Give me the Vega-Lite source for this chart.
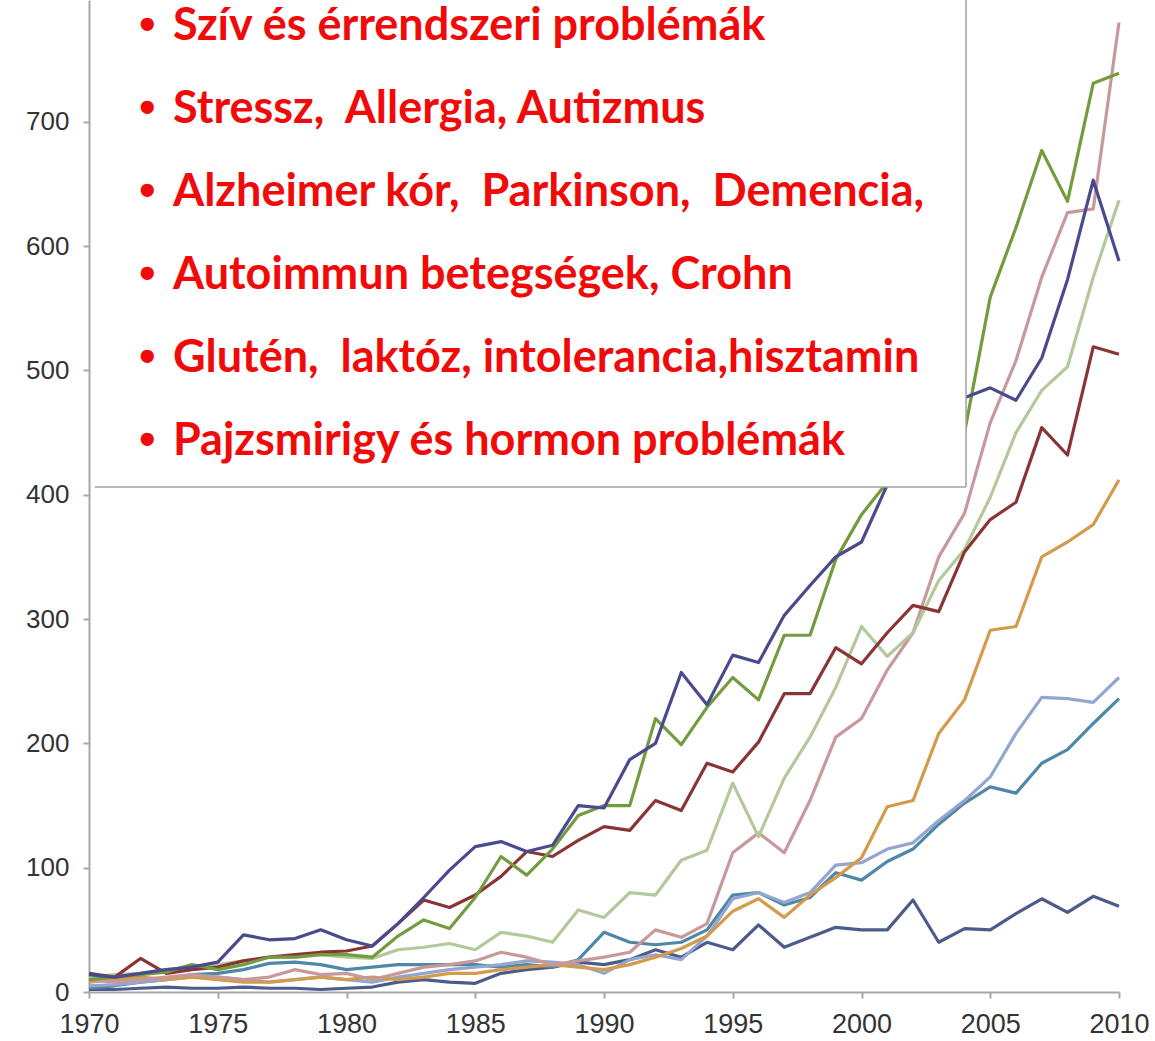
{
  "$schema": "https://vega.github.io/schema/vega-lite/v6.json",
  "width": 1030,
  "height": 992,
  "autosize": {"type": "none"},
  "padding": {"left": 89, "top": 0, "right": 36, "bottom": 49},
  "background": "white",
  "config": {"view": {"stroke": null}},
  "layer": [
    {
      "data": {
        "values": [
          {"year": 1970, "A": 14, "B": 10, "C": 15, "D": 12, "E": 10, "F": 8, "G": 5, "H": 3, "I": 2},
          {"year": 1971, "A": 12, "B": 12, "C": 12, "D": 14, "E": 8, "F": 10, "G": 6, "H": 5, "I": 2},
          {"year": 1972, "A": 15, "B": 14, "C": 27, "D": 15, "E": 10, "F": 12, "G": 8, "H": 8, "I": 3},
          {"year": 1973, "A": 18, "B": 16, "C": 15, "D": 18, "E": 12, "F": 10, "G": 10, "H": 10, "I": 4},
          {"year": 1974, "A": 20, "B": 22, "C": 18, "D": 20, "E": 14, "F": 12, "G": 12, "H": 14, "I": 3},
          {"year": 1975, "A": 24, "B": 18, "C": 20, "D": 22, "E": 12, "F": 10, "G": 12, "H": 15, "I": 3},
          {"year": 1976, "A": 46, "B": 22, "C": 25, "D": 25, "E": 10, "F": 8, "G": 10, "H": 18, "I": 4},
          {"year": 1977, "A": 42, "B": 28, "C": 28, "D": 28, "E": 12, "F": 8, "G": 8, "H": 23, "I": 3},
          {"year": 1978, "A": 43, "B": 28, "C": 30, "D": 28, "E": 18, "F": 10, "G": 10, "H": 24, "I": 3},
          {"year": 1979, "A": 50, "B": 30, "C": 32, "D": 30, "E": 14, "F": 12, "G": 12, "H": 22, "I": 2},
          {"year": 1980, "A": 42, "B": 30, "C": 33, "D": 28, "E": 15, "F": 10, "G": 10, "H": 18, "I": 3},
          {"year": 1981, "A": 37, "B": 28, "C": 37, "D": 27, "E": 10, "F": 12, "G": 8, "H": 20, "I": 4},
          {"year": 1982, "A": 55, "B": 45, "C": 55, "D": 34, "E": 15, "F": 10, "G": 12, "H": 22, "I": 8},
          {"year": 1983, "A": 76, "B": 58, "C": 74, "D": 36, "E": 20, "F": 12, "G": 15, "H": 22, "I": 10},
          {"year": 1984, "A": 98, "B": 51, "C": 68, "D": 39, "E": 22, "F": 15, "G": 18, "H": 22, "I": 8},
          {"year": 1985, "A": 117, "B": 76, "C": 78, "D": 34, "E": 25, "F": 15, "G": 20, "H": 22, "I": 7},
          {"year": 1986, "A": 121, "B": 109, "C": 93, "D": 48, "E": 32, "F": 18, "G": 22, "H": 20, "I": 15},
          {"year": 1987, "A": 113, "B": 94, "C": 113, "D": 45, "E": 28, "F": 20, "G": 25, "H": 22, "I": 18},
          {"year": 1988, "A": 118, "B": 115, "C": 109, "D": 40, "E": 22, "F": 22, "G": 24, "H": 20, "I": 20},
          {"year": 1989, "A": 150, "B": 142, "C": 122, "D": 66, "E": 25, "F": 20, "G": 22, "H": 26, "I": 24},
          {"year": 1990, "A": 148, "B": 150, "C": 133, "D": 60, "E": 28, "F": 18, "G": 15, "H": 48, "I": 22},
          {"year": 1991, "A": 187, "B": 150, "C": 130, "D": 80, "E": 32, "F": 22, "G": 26, "H": 40, "I": 26},
          {"year": 1992, "A": 200, "B": 220, "C": 154, "D": 78, "E": 50, "F": 28, "G": 30, "H": 38, "I": 34},
          {"year": 1993, "A": 257, "B": 199, "C": 146, "D": 106, "E": 44, "F": 35, "G": 26, "H": 40, "I": 28},
          {"year": 1994, "A": 231, "B": 229, "C": 184, "D": 114, "E": 55, "F": 45, "G": 45, "H": 50, "I": 40},
          {"year": 1995, "A": 271, "B": 253, "C": 177, "D": 168, "E": 112, "F": 65, "G": 75, "H": 78, "I": 34},
          {"year": 1996, "A": 265, "B": 235, "C": 201, "D": 125, "E": 128, "F": 75, "G": 80, "H": 80, "I": 54},
          {"year": 1997, "A": 303, "B": 287, "C": 240, "D": 172, "E": 112, "F": 60, "G": 72, "H": 70, "I": 36},
          {"year": 1998, "A": 327, "B": 287, "C": 240, "D": 205, "E": 154, "F": 78, "G": 80, "H": 76, "I": 44},
          {"year": 1999, "A": 350, "B": 348, "C": 277, "D": 245, "E": 205, "F": 92, "G": 102, "H": 96, "I": 52},
          {"year": 2000, "A": 362, "B": 384, "C": 264, "D": 294, "E": 220, "F": 108, "G": 104, "H": 90, "I": 50},
          {"year": 2001, "A": 408, "B": 410, "C": 289, "D": 270, "E": 259, "F": 149, "G": 115, "H": 105, "I": 50},
          {"year": 2002, "A": 430, "B": 420, "C": 311, "D": 289, "E": 289, "F": 154, "G": 120, "H": 115, "I": 74},
          {"year": 2003, "A": 455, "B": 440, "C": 306, "D": 331, "E": 350, "F": 208, "G": 138, "H": 135, "I": 40},
          {"year": 2004, "A": 478, "B": 450, "C": 354, "D": 356, "E": 385, "F": 235, "G": 154, "H": 152, "I": 51},
          {"year": 2005, "A": 486, "B": 559, "C": 380, "D": 398, "E": 458, "F": 291, "G": 173, "H": 165, "I": 50},
          {"year": 2006, "A": 476, "B": 615, "C": 394, "D": 450, "E": 508, "F": 294, "G": 208, "H": 160, "I": 63},
          {"year": 2007, "A": 510, "B": 677, "C": 454, "D": 484, "E": 575, "F": 350, "G": 237, "H": 184, "I": 75},
          {"year": 2008, "A": 573, "B": 636, "C": 432, "D": 503, "E": 627, "F": 362, "G": 236, "H": 195, "I": 64},
          {"year": 2009, "A": 653, "B": 731, "C": 519, "D": 575, "E": 630, "F": 376, "G": 233, "H": 216, "I": 77},
          {"year": 2010, "A": 588, "B": 739, "C": 513, "D": 637, "E": 780, "F": 412, "G": 253, "H": 236, "I": 69}
        ]
      },
      "transform": [{"fold": ["I", "H", "G", "F", "E", "D", "C", "B", "A"], "as": ["series", "value"]}],
      "mark": {"type": "line", "strokeWidth": 3.2, "strokeJoin": "round"},
      "encoding": {
        "x": {
          "field": "year", "type": "quantitative",
          "scale": {"domain": [1970, 2010], "nice": false, "zero": false},
          "axis": {
            "values": [1970, 1975, 1980, 1985, 1990, 1995, 2000, 2005, 2010],
            "format": "d", "title": null, "grid": false,
            "domainColor": "#a8a8a8", "domainWidth": 2,
            "tickColor": "#a8a8a8", "tickWidth": 2, "tickSize": 6,
            "labelFont": "Liberation Sans", "labelFontSize": 27, "labelColor": "#333333",
            "labelPadding": 13, "labelFlush": false, "labelOverlap": false
          }
        },
        "y": {
          "field": "value", "type": "quantitative",
          "scale": {"domain": [0, 798], "nice": false},
          "axis": {
            "values": [0, 100, 200, 300, 400, 500, 600, 700],
            "title": null, "grid": false,
            "domainColor": "#a8a8a8", "domainWidth": 2,
            "tickColor": "#a8a8a8", "tickWidth": 2, "tickSize": 6,
            "labelFont": "Liberation Sans", "labelFontSize": 26, "labelColor": "#333333",
            "labelPadding": 14, "labelFlush": false, "labelOverlap": false
          }
        },
        "color": {
          "field": "series", "type": "nominal",
          "scale": {
            "domain": ["A", "B", "C", "D", "E", "F", "G", "H", "I"],
            "range": ["#4a4a8e", "#739c3e", "#8a3535", "#b3c99b", "#c7999b", "#d39b4b", "#93a6cf", "#4f87a8", "#4d5b8a"]
          },
          "legend": null
        }
      }
    },
    {
      "data": {"values": [{}]},
      "mark": {"type": "rect", "fill": "white"},
      "encoding": {
        "x": {"datum": 1970.23},
        "x2": {"datum": 2004.06},
        "y": {"datum": 406.3},
        "y2": {"datum": 812}
      }
    },
    {
      "data": {"values": [{}]},
      "mark": {"type": "rule", "color": "#a0a0a0", "strokeWidth": 1.5},
      "encoding": {
        "x": {"datum": 1970.23},
        "x2": {"datum": 2004.06},
        "y": {"datum": 406.3}
      }
    },
    {
      "data": {"values": [{}]},
      "mark": {"type": "rule", "color": "#a0a0a0", "strokeWidth": 1.5},
      "encoding": {
        "x": {"datum": 2004.06},
        "y": {"datum": 406.3},
        "y2": {"datum": 812}
      }
    },
    {
      "data": {"values": [{}]},
      "mark": {
        "type": "text",
        "text": ["•", "•", "•", "•", "•", "•"],
        "font": "Liberation Sans",
        "fontWeight": "bold",
        "fontSize": 46,
        "lineHeight": 83,
        "fill": "#f00a0a",
        "align": "left",
        "baseline": "alphabetic"
      },
      "encoding": {
        "x": {"datum": 1971.95},
        "y": {"datum": 765.9}
      }
    },
    {
      "data": {"values": [{}]},
      "mark": {
        "type": "text",
        "text": [
          "Szív és érrendszeri problémák",
          "Stressz, \u00a0Allergia, Autizmus",
          "Alzheimer kór, \u00a0Parkinson, \u00a0Demencia,",
          "Autoimmun betegségek, Crohn",
          "Glutén, \u00a0laktóz, intolerancia,hisztamin",
          "Pajzsmirigy és hormon problémák"
        ],
        "font": "Lato",
        "fontWeight": "bold",
        "fontSize": 45,
        "lineHeight": 83,
        "fill": "#f00a0a",
        "align": "left",
        "baseline": "alphabetic"
      },
      "encoding": {
        "x": {"datum": 1973.26},
        "y": {"datum": 765.9}
      }
    }
  ]
}
